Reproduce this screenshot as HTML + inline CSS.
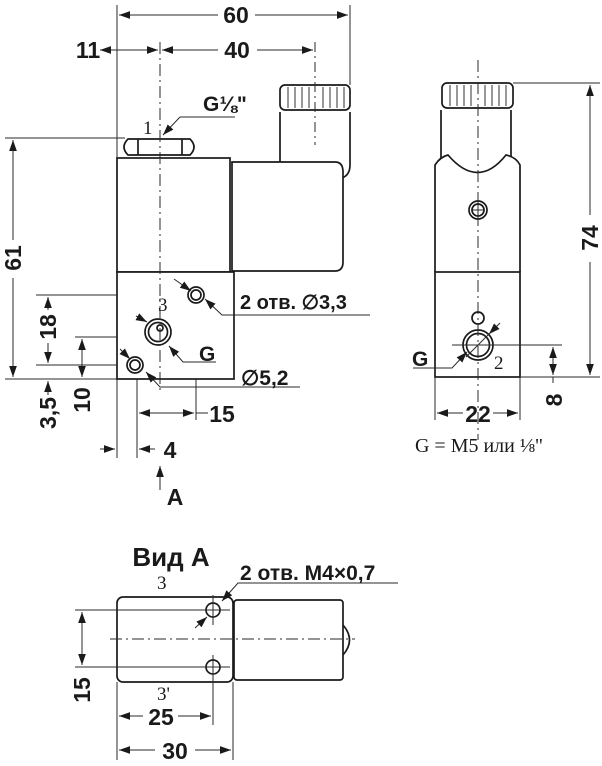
<!DOCTYPE html>
<html><head><meta charset="utf-8"><style>
html,body{margin:0;padding:0;background:#fff}
svg{display:block}
text{font-family:"Liberation Sans Narrow","Liberation Sans",sans-serif;fill:#1a1a1a;font-weight:bold}
.s{font-family:"Liberation Serif",serif;font-weight:normal}
</style></head><body>
<svg width="602" height="766" viewBox="0 0 602 766" xmlns="http://www.w3.org/2000/svg">
<defs>
<marker id="a" viewBox="0 0 10 10" refX="10" refY="5" markerWidth="11" markerHeight="11" orient="auto-start-reverse" markerUnits="userSpaceOnUse"><path d="M0,1.5 L10,5 L0,8.5 z" fill="#1a1a1a"/></marker>
</defs>
<g stroke="#2a2a2a" stroke-width="1" fill="none">
<line x1="117" y1="5" x2="117" y2="458"/>
<line x1="350" y1="5" x2="350" y2="85"/>
<line x1="5" y1="138" x2="125" y2="138"/>
<line x1="5" y1="379" x2="117" y2="379"/>
<line x1="36" y1="295" x2="205" y2="295"/>
<line x1="36" y1="365" x2="152" y2="365"/>
<line x1="75" y1="337" x2="183" y2="337"/>
<line x1="137" y1="350" x2="137" y2="458"/>
<line x1="196" y1="278" x2="196" y2="420"/>
<line x1="119" y1="15" x2="218" y2="15" marker-start="url(#a)"/>
<line x1="255" y1="15" x2="348" y2="15" marker-end="url(#a)"/>
<line x1="100" y1="50" x2="158" y2="50" marker-start="url(#a)" marker-end="url(#a)" />
<line x1="162" y1="50" x2="218" y2="50" marker-start="url(#a)"/>
<line x1="257" y1="50" x2="313" y2="50" marker-end="url(#a)"/>
<line x1="13" y1="140" x2="13" y2="240" marker-start="url(#a)"/>
<line x1="13" y1="278" x2="13" y2="377" marker-end="url(#a)"/>
<line x1="48" y1="297" x2="48" y2="310" marker-start="url(#a)"/>
<line x1="48" y1="343" x2="48" y2="363" marker-end="url(#a)"/>
<line x1="48" y1="381" x2="48" y2="395" marker-start="url(#a)"/>
<line x1="82" y1="339" x2="82" y2="377" marker-start="url(#a)" marker-end="url(#a)"/>
<line x1="139" y1="413" x2="194" y2="413" marker-start="url(#a)" marker-end="url(#a)"/>
<line x1="196" y1="413" x2="208" y2="413"/>
<line x1="100" y1="449" x2="115" y2="449" marker-end="url(#a)"/>
<line x1="155" y1="449" x2="139" y2="449" marker-end="url(#a)"/>
<line x1="160" y1="490" x2="160" y2="466" marker-end="url(#a)"/>
</g>
<g stroke="#1a1a1a" stroke-width="1.7" fill="#fff">
<path d="M280,112 L280,175 M350,112 L350,165 Q350,175 342,178"/>
<rect x="280" y="85" width="70" height="25" rx="5"/>
<g stroke-width="0.9"><line x1="288" y1="87" x2="288" y2="108"/><line x1="295" y1="87" x2="295" y2="108"/><line x1="302" y1="87" x2="302" y2="108"/><line x1="309" y1="87" x2="309" y2="108"/><line x1="323" y1="87" x2="323" y2="108"/><line x1="330" y1="87" x2="330" y2="108"/><line x1="337" y1="87" x2="337" y2="108"/><line x1="344" y1="87" x2="344" y2="108"/></g>
<path d="M128,139 L190,139 Q198,147 190,155 L128,155 Q120,147 128,139 z"/>
<line x1="138" y1="139" x2="138" y2="155"/><line x1="182" y1="139" x2="182" y2="155"/>
<rect x="117" y="158" width="113" height="114"/>
<path d="M232,162 L335,162 Q343,162 343,172 L343,262 Q343,271 335,271 L232,271 z"/>
<rect x="117" y="272" width="117" height="107"/>
<circle cx="196" cy="295" r="8"/><circle cx="196" cy="295" r="5"/>
<circle cx="158" cy="332" r="13"/><circle cx="158" cy="332" r="9.5"/><circle cx="160" cy="328" r="3"/>
<circle cx="135" cy="365" r="8"/><circle cx="135" cy="365" r="5"/>
</g>
<g stroke="#2a2a2a" stroke-width="1" fill="none">
<line x1="160" y1="42" x2="160" y2="392" stroke-dasharray="12,4,2,4"/>
<line x1="315" y1="42" x2="315" y2="145" stroke-dasharray="10,4,2,4"/>
<path d="M180,117 L235,117 M180,117 L163,135" marker-end="url(#a)"/>
<path d="M370,315 L222,315 L205,299" marker-end="url(#a)"/>
<line x1="174" y1="279" x2="191" y2="291" marker-end="url(#a)"/>
<path d="M216,362 L183,362 L169,346" marker-end="url(#a)"/>
<line x1="136" y1="316" x2="147" y2="322" marker-end="url(#a)"/>
<path d="M300,387 L160,387 L146,372" marker-end="url(#a)"/>
<line x1="120" y1="349" x2="130" y2="359" marker-end="url(#a)"/>
</g>
<g stroke="#1a1a1a" stroke-width="1.7" fill="#fff">
<path d="M441,110 L441,162 M511,110 L511,162"/>
<path d="M435,272 L435,165 Q440,157 448,155 Q478,190 506,155 Q516,157 520,165 L520,272"/>
<rect x="442" y="83" width="71" height="25" rx="5"/>
<g stroke-width="0.9"><line x1="450" y1="85" x2="450" y2="106"/><line x1="457" y1="85" x2="457" y2="106"/><line x1="464" y1="85" x2="464" y2="106"/><line x1="471" y1="85" x2="471" y2="106"/><line x1="485" y1="85" x2="485" y2="106"/><line x1="492" y1="85" x2="492" y2="106"/><line x1="499" y1="85" x2="499" y2="106"/><line x1="506" y1="85" x2="506" y2="106"/></g>
<rect x="435" y="272" width="85" height="105"/>
<circle cx="478" cy="210" r="9"/><circle cx="478" cy="210" r="6"/>
<circle cx="478" cy="318" r="6"/>
<circle cx="478" cy="345" r="15"/><circle cx="478" cy="345" r="11.5"/>
</g>
<g stroke="#2a2a2a" stroke-width="1" fill="none">
<line x1="478" y1="60" x2="478" y2="440" stroke-dasharray="12,4,2,4"/>
<line x1="471" y1="210" x2="485" y2="210"/><line x1="478" y1="203" x2="478" y2="217"/>
<line x1="513" y1="83" x2="600" y2="83"/>
<line x1="520" y1="377" x2="600" y2="377"/>
<line x1="452" y1="345" x2="562" y2="345"/>
<line x1="435" y1="377" x2="435" y2="420"/><line x1="520" y1="377" x2="520" y2="420"/>
<line x1="590" y1="85" x2="590" y2="215" marker-start="url(#a)"/>
<line x1="590" y1="262" x2="590" y2="375" marker-end="url(#a)"/>
<line x1="553" y1="347" x2="553" y2="375" marker-start="url(#a)" marker-end="url(#a)"/>
<line x1="553" y1="377" x2="553" y2="383"/>
<line x1="437" y1="413" x2="463" y2="413" marker-start="url(#a)"/>
<line x1="493" y1="413" x2="518" y2="413" marker-end="url(#a)"/>
<path d="M413,368 L452,368 L467,352" marker-end="url(#a)"/>
<line x1="500" y1="323" x2="489" y2="334" marker-end="url(#a)"/>
<line x1="466" y1="357" x2="490" y2="333"/>
</g>
<g stroke="#1a1a1a" stroke-width="1.7" fill="#fff">
<path d="M343,625 Q356,640 343,655"/>
<rect x="234" y="600" width="109" height="80" rx="3"/>
<rect x="117" y="597" width="116" height="85" rx="6"/>
<circle cx="213" cy="610" r="7"/><circle cx="213" cy="667" r="7"/>
</g>
<g stroke="#2a2a2a" stroke-width="1" fill="none">
<line x1="110" y1="639" x2="355" y2="639" stroke-dasharray="12,4,2,4"/>
<line x1="213" y1="595" x2="213" y2="625"/><line x1="213" y1="655" x2="213" y2="725"/>
<line x1="75" y1="610" x2="230" y2="610"/><line x1="75" y1="667" x2="230" y2="667"/>
<line x1="82" y1="612" x2="82" y2="665" marker-start="url(#a)" marker-end="url(#a)"/>
<line x1="117" y1="682" x2="117" y2="760"/><line x1="233" y1="682" x2="233" y2="760"/>
<line x1="119" y1="716" x2="143" y2="716" marker-start="url(#a)"/>
<line x1="178" y1="716" x2="211" y2="716" marker-end="url(#a)"/>
<line x1="119" y1="750" x2="155" y2="750" marker-start="url(#a)"/>
<line x1="195" y1="750" x2="231" y2="750" marker-end="url(#a)"/>
<path d="M398,583 L238,583 L222,601" marker-end="url(#a)"/>
<line x1="195" y1="628" x2="207" y2="617" marker-end="url(#a)"/>
</g>
<g font-size="23">
<text x="236" y="23" text-anchor="middle">60</text>
<text x="88" y="58" text-anchor="middle">11</text>
<text x="237" y="58" text-anchor="middle">40</text>
<text x="203" y="111" font-size="21">G⅛"</text>
<text x="240" y="309" font-size="20">2 отв. ∅3,3</text>
<text x="199" y="361" font-size="21">G</text>
<text x="241" y="385" font-size="21">∅5,2</text>
<text x="222" y="422" text-anchor="middle">15</text>
<text x="170" y="458" text-anchor="middle">4</text>
<text x="175" y="505" text-anchor="middle">A</text>
<text transform="translate(21,258) rotate(-90)" text-anchor="middle">61</text>
<text transform="translate(56,327) rotate(-90)" text-anchor="middle">18</text>
<text transform="translate(56,413) rotate(-90)" text-anchor="middle">3,5</text>
<text transform="translate(90,400) rotate(-90)" text-anchor="middle">10</text>
<text transform="translate(598,238) rotate(-90)" text-anchor="middle">74</text>
<text transform="translate(562,400) rotate(-90)" text-anchor="middle">8</text>
<text x="478" y="422" text-anchor="middle">22</text>
<text x="412" y="366" font-size="21">G</text>
<text x="171" y="566" text-anchor="middle" font-size="26">Вид А</text>
<text x="240" y="580" font-size="21">2 отв. М4×0,7</text>
<text transform="translate(90,690) rotate(-90)" text-anchor="middle">15</text>
<text x="161" y="725" text-anchor="middle">25</text>
<text x="175" y="759" text-anchor="middle">30</text>
</g>
<g font-size="19">
<text x="143" y="134" class="s">1</text>
<text x="158" y="311" class="s">3</text>
<text x="494" y="369" class="s">2</text>
<text x="157" y="589" class="s">3</text>
<text x="157" y="700" class="s">3'</text>
<text x="479" y="452" text-anchor="middle" class="s" font-size="20">G = M5 или ⅛"</text>
</g>
</svg>
</body></html>
